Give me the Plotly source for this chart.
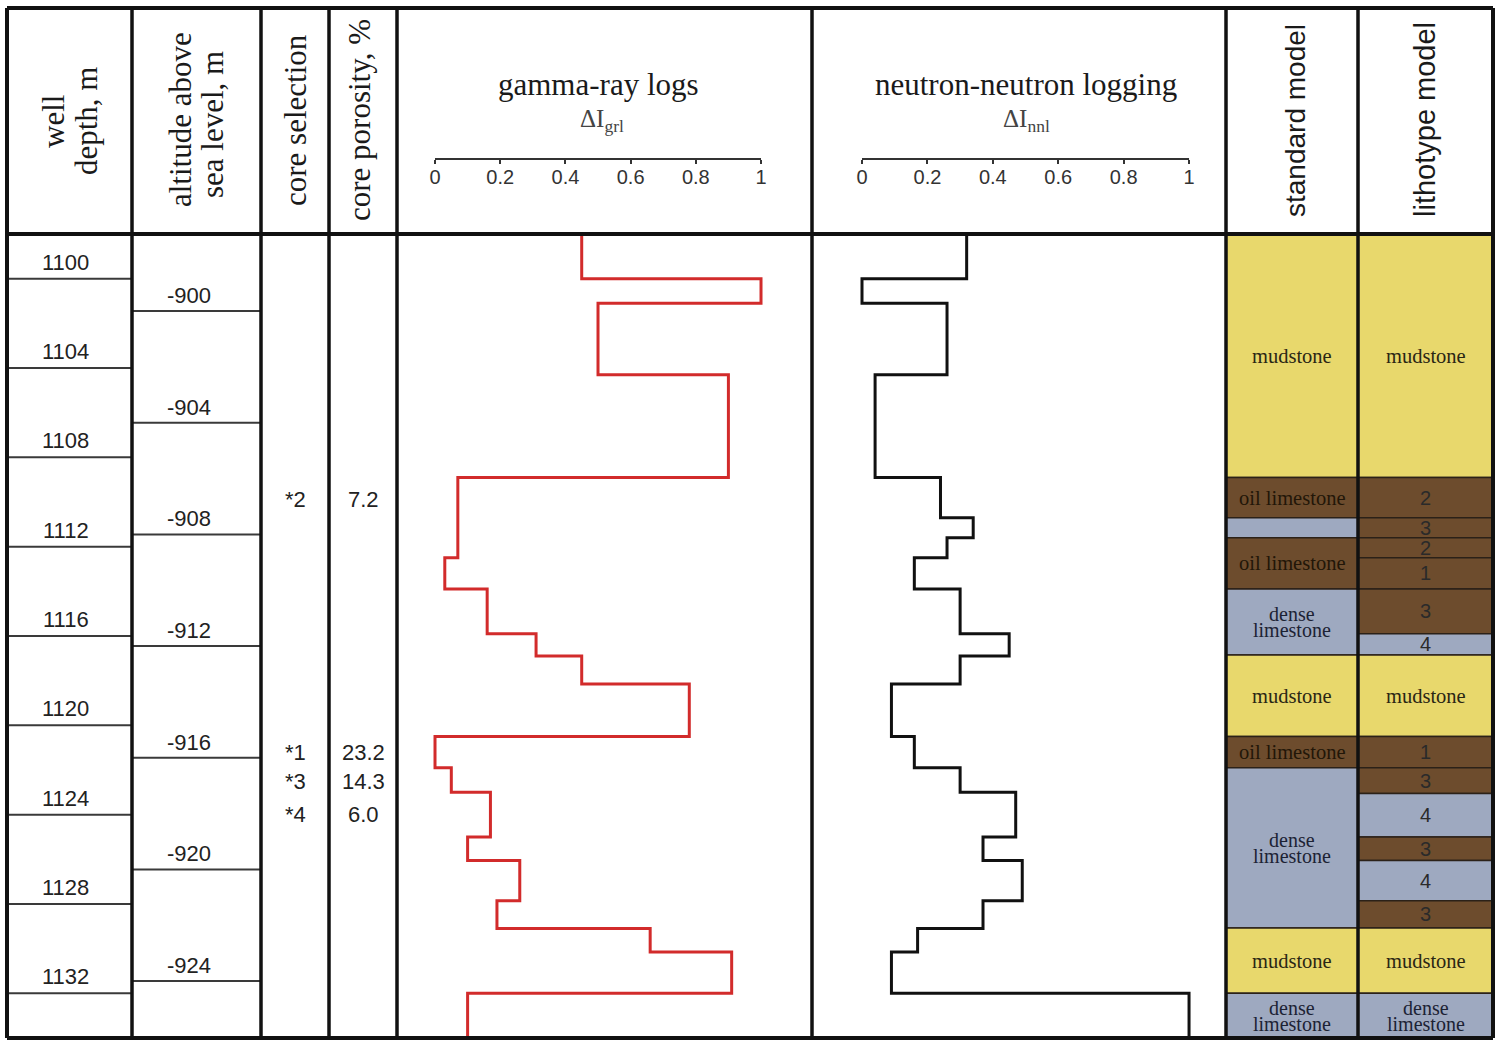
import plotly.graph_objects as go

W, H = 1500, 1046


def px(x):
    return x / W


def py(y):
    return 1 - y / H


# ---------------- data ----------------
DEPTH_TOP, DEPTH_BOT = 1100, 1136

depth_labels = [1100, 1104, 1108, 1112, 1116, 1120, 1124, 1128, 1132]
altitude_labels = [-900, -904, -908, -912, -916, -920, -924]
altitude_ref_depth = 1103.45      # well depth where altitude is -900 m
altitude_depth_per_m = 1.25       # well depth metres per metre of altitude

core_labels = ["*2", "*1", "*3", "*4"]
core_depths = [1111.9, 1123.2, 1124.5, 1126.0]
core_porosity = ["7.2", "23.2", "14.3", "6.0"]

gr_tops = [1100, 1102, 1103.1, 1106.3, 1110.9, 1114.5, 1115.9, 1117.9, 1118.9,
           1120.15, 1122.5, 1123.9, 1125.0, 1127.0, 1128.05, 1129.85, 1131.1,
           1132.15, 1134.0]
gr_values = [0.45, 1.0, 0.50, 0.90, 0.07, 0.03, 0.16, 0.31, 0.45, 0.78, 0.0,
             0.05, 0.17, 0.10, 0.26, 0.19, 0.66, 0.91, 0.10]

nn_tops = [1100, 1102, 1103.1, 1106.3, 1110.9, 1112.7, 1113.6, 1114.5, 1115.9,
           1117.9, 1118.9, 1120.15, 1122.5, 1123.9, 1125.0, 1127.0, 1128.05,
           1129.85, 1131.1, 1132.15, 1134.0]
nn_values = [0.32, 0.0, 0.26, 0.04, 0.24, 0.34, 0.26, 0.16, 0.30, 0.45, 0.30,
             0.09, 0.16, 0.30, 0.47, 0.37, 0.49, 0.37, 0.17, 0.09, 1.0]

std_tops = [1100, 1110.9, 1112.7, 1113.6, 1115.9, 1118.85, 1122.5, 1123.9,
            1131.07, 1134.0]
std_types = ["mud", "oil", "dense", "oil", "dense", "mud", "oil", "dense",
             "mud", "dense"]
std_labels = ["mudstone", "oil limestone", "", "oil limestone",
              "dense limestone", "mudstone", "oil limestone",
              "dense limestone", "mudstone", "dense limestone"]

lit_tops = [1100, 1110.9, 1112.7, 1113.6, 1114.5, 1115.9, 1117.9, 1118.85,
            1122.5, 1123.9, 1125.05, 1127.0, 1128.05, 1129.85, 1131.07, 1134.0]
lit_types = ["mud", "oil", "oil", "oil", "oil", "oil", "dense", "mud", "oil",
             "oil", "dense", "oil", "dense", "oil", "mud", "dense"]
lit_labels = ["mudstone", "2", "3", "2", "1", "3", "4", "mudstone", "1", "3",
              "4", "3", "4", "3", "mudstone", "dense limestone"]

axis_ticks = [0, 0.2, 0.4, 0.6, 0.8, 1]
axis_ticktext = ["0", "0.2", "0.4", "0.6", "0.8", "1"]

# ---------------- styles ----------------
col_edges = [7, 132, 261, 329, 397, 812, 1226, 1358, 1493]
FRAME_TOP, HEADER_BOT, FRAME_BOT = 8, 234, 1038
SERIF = "Liberation Serif"
SANS = "Liberation Sans"
lith_colors = {"mud": "#E8D86C", "oil": "#6D4C2D", "dense": "#9EA9C0"}
lith_text = {"mud": "#2a2614", "oil": "#221608", "dense": "#1c2234"}


def step_xy(tops, values):
    xs, ys = [], []
    for i, v in enumerate(values):
        bot = tops[i + 1] if i + 1 < len(tops) else DEPTH_BOT
        xs += [v, v]
        ys += [tops[i], bot]
    return xs, ys


def intervals(tops):
    bots = tops[1:] + [DEPTH_BOT]
    mids = [(t + b) / 2 for t, b in zip(tops, bots)]
    thick = [b - t for t, b in zip(tops, bots)]
    return mids, thick


def col_center(i):
    return (col_edges[i] + col_edges[i + 1]) / 2


def ann(x, y, text, font, yref="y", yanchor="middle", yshift=0, angle=0):
    return dict(x=px(x), y=y, xref="paper", yref=yref, text=text, showarrow=False,
                xanchor="center", yanchor=yanchor, yshift=yshift, textangle=angle,
                font=font)


fig = go.Figure()

gx, gy = step_xy(gr_tops, gr_values)
fig.add_trace(go.Scatter(x=gx, y=gy, mode="lines", xaxis="x", yaxis="y",
                         line=dict(color="#D22B2B", width=3), hoverinfo="skip"))
nx, ny = step_xy(nn_tops, nn_values)
fig.add_trace(go.Scatter(x=nx, y=ny, mode="lines", xaxis="x2", yaxis="y",
                         line=dict(color="#111111", width=3), hoverinfo="skip"))

annotations = []
for axis, tops, types, labels, ci in [("x3", std_tops, std_types, std_labels, 6),
                                      ("x4", lit_tops, lit_types, lit_labels, 7)]:
    mids, thick = intervals(tops)
    fig.add_trace(go.Bar(orientation="h", x=[1] * len(tops), base=0, y=mids,
                         width=thick, xaxis=axis, yaxis="y",
                         marker=dict(color=[lith_colors[t] for t in types],
                                     line=dict(color="#2b2118", width=1.5)),
                         hoverinfo="skip"))
    for m, t, lab in zip(mids, types, labels):
        if not lab:
            continue
        cx = col_center(ci)
        if lab.isdigit():
            annotations.append(ann(cx, m, lab, dict(family=SANS, size=20, color="#2a2a2a")))
        elif lab == "dense limestone":
            for word, sh in [("dense", 8), ("limestone", -8)]:
                annotations.append(ann(cx, m, word, dict(family=SERIF, size=20,
                                                         color=lith_text[t]), yshift=sh))
        else:
            annotations.append(ann(cx, m, lab, dict(family=SERIF, size=20.5,
                                                    color=lith_text[t])))

NUMFONT = dict(family=SANS, size=22, color="#222")
shapes = []
# depth lines and labels
for d in depth_labels:
    shapes.append(dict(type="line", xref="paper", yref="y", x0=px(col_edges[0]),
                       x1=px(col_edges[1]), y0=d + 2, y1=d + 2,
                       line=dict(color="#3a3a3a", width=2)))
    annotations.append(ann(col_center(0) - 4, d + 2, str(d), NUMFONT,
                           yanchor="bottom", yshift=2))
# altitude lines and labels
for a in altitude_labels:
    dpos = altitude_ref_depth + (-900 - a) * altitude_depth_per_m
    shapes.append(dict(type="line", xref="paper", yref="y", x0=px(col_edges[1]),
                       x1=px(col_edges[2]), y0=dpos, y1=dpos,
                       line=dict(color="#3a3a3a", width=2)))
    annotations.append(ann(col_center(1) - 8, dpos, str(a), NUMFONT,
                           yanchor="bottom", yshift=1))
# core samples
for lab, d, por in zip(core_labels, core_depths, core_porosity):
    annotations.append(ann(col_center(2), d, lab, NUMFONT))
    annotations.append(ann(col_center(3), d, por, NUMFONT))


# headers
def head(text, x, y, angle=0, family=SERIF, size=31, color="#1a1a1a"):
    annotations.append(ann(x, py(y), text, dict(family=family, size=size, color=color),
                           yref="paper", angle=angle))


head("well", 54, 121, -90)
head("depth, m", 87, 121, -90)
head("altitude above", 181, 120, -90)
head("sea level, m", 212, 125, -90)
head("core selection", 296, 120, -90)
head("core porosity, %", 360, 120, -90)
head("gamma-ray logs", 598, 85)
head("ΔI<sub>grl</sub>", 602, 121, size=25, color="#444")
head("neutron-neutron logging", 1026, 85)
head("ΔI<sub>nnl</sub>", 1026, 121, size=25, color="#444")
head("standard model", 1296, 121, -90, family=SANS, size=28)
head("lithotype model", 1425, 120, -90, family=SANS, size=29)

# axis lines for logs (header scale bars)
AX_Y = 159
for xr in ["x", "x2"]:
    shapes.append(dict(type="line", xref=xr, yref="paper", x0=0, x1=1,
                       y0=py(AX_Y), y1=py(AX_Y), line=dict(color="#333", width=2)))

# table frame
for i, xe in enumerate(col_edges):
    w = 4 if i in (0, len(col_edges) - 1) else 3.5
    shapes.append(dict(type="line", xref="paper", yref="paper", x0=px(xe), x1=px(xe),
                       y0=py(FRAME_TOP), y1=py(FRAME_BOT), layer="above",
                       line=dict(color="#111", width=w)))
for ye in [FRAME_TOP, HEADER_BOT, FRAME_BOT]:
    shapes.append(dict(type="line", xref="paper", yref="paper", x0=px(col_edges[0]),
                       x1=px(col_edges[-1]), y0=py(ye), y1=py(ye), layer="above",
                       line=dict(color="#111", width=4)))

log_axis_common = dict(anchor="free", position=py(AX_Y), side="bottom", showline=False,
                       ticks="outside", ticklen=4, tickwidth=1.5, tickcolor="#333",
                       tickvals=axis_ticks, ticktext=axis_ticktext, showgrid=False,
                       zeroline=False, fixedrange=True, ticklabelstandoff=-4,
                       tickfont=dict(family=SANS, size=20, color="#333"))

fig.update_layout(
    width=W, height=H, margin=dict(l=0, r=0, t=0, b=0),
    paper_bgcolor="white", plot_bgcolor="rgba(0,0,0,0)",
    showlegend=False, barmode="overlay",
    xaxis=dict(domain=[px(col_edges[4]), px(col_edges[5])], range=[-0.1166, 1.1564],
               **log_axis_common),
    xaxis2=dict(domain=[px(col_edges[5]), px(col_edges[6])], range=[-0.1529, 1.113],
                **log_axis_common),
    xaxis3=dict(domain=[px(col_edges[6]), px(col_edges[7])], range=[0, 1], anchor="y",
                visible=False, fixedrange=True),
    xaxis4=dict(domain=[px(col_edges[7]), px(col_edges[8])], range=[0, 1], anchor="y",
                visible=False, fixedrange=True),
    yaxis=dict(domain=[py(FRAME_BOT), py(HEADER_BOT)], range=[DEPTH_BOT, DEPTH_TOP],
               anchor="x3", visible=False, fixedrange=True),
    shapes=shapes, annotations=annotations,
)

fig.write_html("out.html", config={"displayModeBar": False},
               post_script="document.body.style.margin='0';document.body.style.overflow='hidden';")
